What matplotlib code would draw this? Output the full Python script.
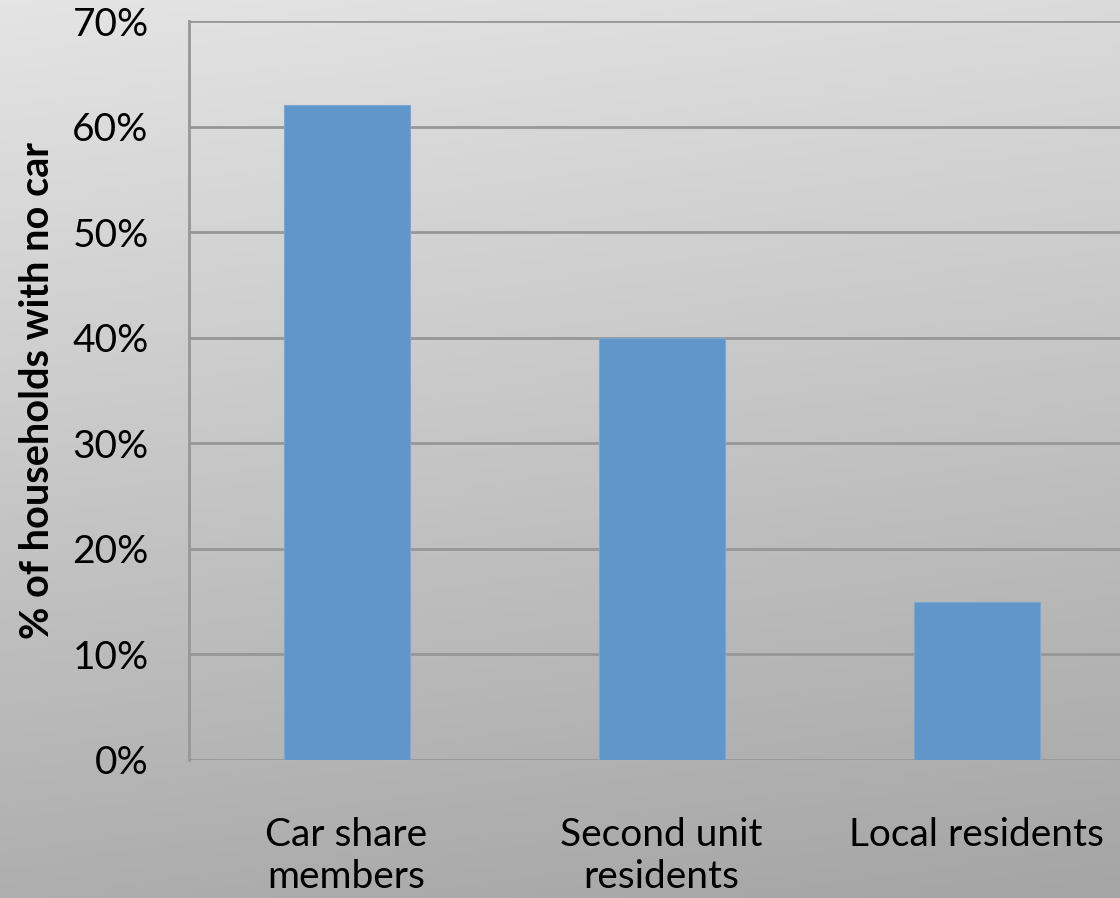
import numpy as np
import matplotlib.pyplot as plt
from matplotlib.colors import LinearSegmentedColormap

categories = ["Car share\nmembers", "Second unit\nresidents", "Local residents"]
no_car_pct = [62, 40, 15]
yticks = [0, 10, 20, 30, 40, 50, 60, 70]

plt.rcParams["font.family"] = ["Lato", "DejaVu Sans"]

fig = plt.figure(figsize=(11.2, 8.98), dpi=100)

# gradient background
bg = fig.add_axes([0, 0, 1, 1], zorder=-1)
yy, xx = np.mgrid[0:1:200j, 0:1:200j]
grad = 0.85 * yy + 0.15 * xx
cmap = LinearSegmentedColormap.from_list("bg", ["#e4e4e4", "#a5a5a5"])
bg.imshow(grad, cmap=cmap, aspect="auto", extent=[0, 1, 0, 1], origin="upper")
bg.axis("off")

ax = fig.add_axes([189 / 1120, 138 / 898, 945 / 1120, 739 / 898])
ax.patch.set_alpha(0)
ax.bar(range(len(categories)), no_car_pct, width=0.4, color="#6096c9",
       edgecolor="#7aa6d3", linewidth=0.8, zorder=3)

ax.set_xlim(-0.5, 2.5)
ax.set_ylim(0, 70)
ax.set_yticks(yticks)
ax.set_yticklabels([f"{t}%" for t in yticks])
ax.set_xticks(range(len(categories)))
ax.set_xticklabels(categories, linespacing=1.2)
ax.tick_params(axis="both", length=0, labelsize=28, colors="black")
ax.tick_params(axis="y", pad=29)
ax.tick_params(axis="x", pad=41)

ax.grid(axis="y", color="#979797", linewidth=2, zorder=0)
for side in ["top", "right", "bottom"]:
    ax.spines[side].set_visible(False)
ax.spines["left"].set_color("#979797")
ax.spines["left"].set_linewidth(2)

ax.set_ylabel("% of households with no car", fontsize=28.5, fontweight="bold", labelpad=12)

fig.savefig("out.png", dpi=100)
